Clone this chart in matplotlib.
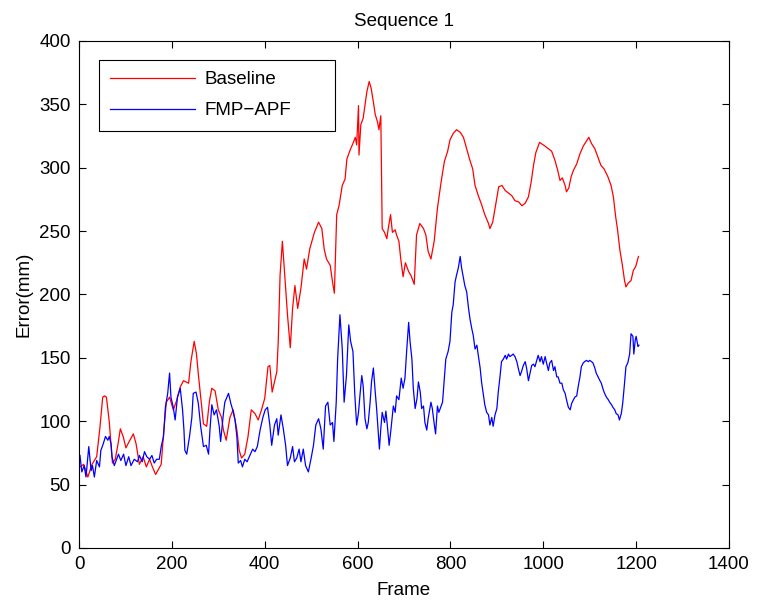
import matplotlib
matplotlib.use("Agg")
import matplotlib.pyplot as plt

# values
baseline_frame = [2, 10, 19, 28, 38, 45, 51, 55, 59, 65, 72, 78, 84, 89, 95, 101, 108, 117, 123, 130,
                  138, 145, 152, 158, 165, 171, 177, 182, 188, 195, 203, 210, 218, 225, 236, 241, 248, 253,
                  257, 262, 268, 275, 281, 286, 293, 300, 307, 311, 317, 325, 332, 340, 345, 350, 357, 364,
                  371, 379, 386, 393, 400, 407, 411, 416, 426, 429, 433, 438, 444, 449, 455, 460, 465, 471,
                  478, 485, 490, 497, 507, 516, 523, 528, 533, 541, 546, 550, 555, 560, 567, 573, 577, 584,
                  591, 595, 598, 602, 603, 607, 612, 620, 625, 629, 634, 638, 643, 646, 650, 653, 658, 663,
                  666, 671, 675, 681, 684, 689, 693, 698, 703, 710, 715, 722, 727, 734, 742, 747, 752, 758,
                  765, 772, 780, 787, 794, 799, 806, 813, 821, 828, 835, 841, 848, 853, 860, 867, 874, 882,
                  885, 891, 897, 904, 911, 918, 925, 932, 939, 947, 954, 961, 968, 974, 979, 984, 992, 1000,
                  1004, 1011, 1018, 1025, 1031, 1036, 1041, 1047, 1050, 1055, 1060, 1065, 1072, 1079, 1086,
                  1093, 1098, 1104, 1111, 1117, 1124, 1131, 1139, 1146, 1151, 1156, 1160, 1165, 1170, 1175,
                  1178, 1183, 1189, 1194, 1199, 1205]
baseline_err = [64, 66, 56, 66, 72, 95, 119, 120, 119, 100, 67, 70, 82, 94, 88, 79, 84, 90, 82, 66,
                72, 64, 70, 64, 58, 62, 66, 90, 115, 119, 109, 116, 127, 132, 130, 147, 163, 153,
                137, 119, 98, 96, 116, 126, 124, 109, 103, 93, 85, 103, 109, 93, 77, 71, 74, 88,
                109, 106, 101, 109, 118, 143, 144, 123, 139, 162, 215, 242, 210, 184, 158, 189, 207, 189,
                205, 228, 220, 236, 249, 257, 252, 236, 228, 223, 210, 201, 263, 270, 286, 291, 307, 314,
                320, 324, 318, 349, 310, 334, 339, 360, 368, 363, 352, 342, 336, 330, 341, 252, 249, 244,
                252, 263, 249, 251, 247, 242, 228, 214, 225, 218, 215, 208, 247, 256, 252, 247, 234, 228,
                242, 268, 289, 305, 313, 322, 327, 330, 328, 324, 315, 307, 299, 286, 278, 271, 263, 256,
                252, 257, 270, 285, 286, 282, 280, 278, 274, 273, 270, 272, 277, 289, 302, 312, 320, 318,
                317, 315, 313, 306, 298, 290, 292, 286, 281, 284, 293, 298, 303, 311, 317,
                321, 324, 319, 315, 309, 302, 299, 293, 286, 277, 261, 251, 235, 224, 211,
                206, 209, 211, 219, 222, 230]

fmp_frame = [2, 6, 11, 15, 21, 26, 29, 33, 38, 44, 47, 52, 57, 62, 65, 69, 71, 76, 81, 85, 90, 96,
             101, 107, 112, 119, 126, 130, 136, 141, 146, 152, 157, 162, 167, 173, 177, 182, 186, 191,
             195, 198, 203, 207, 212, 218, 223, 226, 228, 232, 238, 243, 246, 252, 257, 262, 268, 274,
             279, 282, 286, 291, 296, 302, 305, 311, 314, 322, 327, 331, 336, 340, 343, 348, 352, 357,
             362, 368, 374, 379, 384, 390, 396, 401, 406, 411, 415, 421, 426, 429, 435, 440, 445, 449,
             455, 460, 464, 469, 474, 478, 483, 488, 494, 500, 505, 510, 516, 521, 526, 531, 536, 541,
             546, 549, 554, 557, 562, 567, 571, 576, 581, 585, 590, 594, 598, 602, 605, 609, 612, 616,
             620, 623, 627, 630, 634, 638, 641, 645, 647, 650, 653, 658, 661, 664, 668, 672, 677, 681,
             684, 689, 694, 698, 702, 706, 710, 713, 717, 720, 724, 728, 731, 735, 738, 742, 745, 749,
             752, 758, 761, 765, 768, 772, 775, 780, 783, 787, 790, 795, 799, 803, 806, 810, 813, 817,
             821, 824, 828, 831, 835, 839, 842, 846, 849, 853, 857, 860, 864, 867, 871, 874, 878, 882,
             885, 889, 892, 896, 900, 903, 907, 910, 914, 918, 921, 925, 928, 932, 935, 939, 943, 946,
             950, 953, 957, 961, 964, 968, 972, 975, 979, 982, 986, 989, 993, 996, 1000, 1004, 1007,
             1011, 1014, 1018, 1022, 1025, 1029, 1032, 1036, 1040, 1043, 1047, 1050, 1054, 1058, 1061,
             1065, 1068, 1072, 1075, 1079, 1082, 1086, 1089, 1093, 1097, 1100, 1104, 1107, 1111, 1114,
             1118, 1122, 1125, 1129, 1132, 1136, 1140, 1143, 1147, 1150, 1154, 1157, 1161, 1164, 1168,
             1171, 1175, 1178, 1182, 1186, 1189, 1193, 1195, 1198, 1200, 1204, 1206]
fmp_err = [73, 60, 65, 56, 80, 61, 65, 56, 69, 64, 77, 82, 88, 85, 88, 82, 72, 65, 70, 74, 69, 74,
           65, 72, 65, 70, 68, 73, 68, 76, 72, 70, 73, 67, 70, 70, 80, 88, 111, 122,
           138, 119, 111, 101, 119, 126, 109, 93, 77, 74, 88, 103, 122, 123, 114, 96, 80, 81,
           74, 93, 113, 105, 109, 96, 84, 106, 115, 122, 114, 109, 101, 88, 67, 69, 64, 70,
           68, 73, 78, 76, 80, 93, 103, 109, 111, 97, 81, 97, 102, 89, 105, 94, 81, 65,
           71, 80, 68, 71, 78, 68, 78, 65, 60, 71, 81, 97, 102, 94, 78, 112, 115, 97,
           99, 84, 115, 149, 184, 157, 115, 136, 176, 163, 155, 121, 97, 107, 120, 136, 128, 102,
           94, 99, 115, 131, 142, 123, 110, 89, 78, 94, 107, 99, 108, 97, 81, 94, 112, 107,
           120, 117, 134, 126, 134, 157, 178, 163, 149, 126, 110, 118, 131, 123, 110, 112, 99, 93,
           102, 115, 110, 98, 90, 112, 107, 112, 115, 134, 149, 155, 163, 186, 192, 210, 215, 221,
           230, 221, 213, 207, 202, 189, 181, 173, 168, 157, 160, 152, 142, 131, 121, 113, 107, 105,
           97, 103, 96, 105, 110, 123, 136, 147, 149, 152, 149, 153, 151, 152, 153, 151, 147, 142,
           136, 139, 144, 147, 142, 132, 139, 144, 145, 143, 148, 152, 147, 151, 145, 151, 146,
           140, 146, 148, 140, 143, 135, 135, 130, 130, 125, 122, 117, 111, 109, 114,
           117, 119, 120, 127, 135, 143, 146, 147, 148, 147, 148, 147, 146, 142, 138,
           135, 132, 130, 125, 122, 119, 117, 115, 113, 111, 109, 106, 105, 101, 106,
           114, 130, 143, 146, 153, 169, 167, 153, 164, 167, 159, 160]

x_ticks = [0, 200, 400, 600, 800, 1000, 1200, 1400]
y_ticks = [0, 50, 100, 150, 200, 250, 300, 350, 400]

plt.rcParams["font.family"] = ["Liberation Sans", "DejaVu Sans"]

fig = plt.figure(figsize=(7.57, 6.0), dpi=100)
ax = fig.add_axes([0.1044, 0.0867, 0.8586, 0.845])

ax.plot(baseline_frame, baseline_err, color=(1, 0, 0), linewidth=0.9, label="Baseline")
ax.plot(fmp_frame, fmp_err, color=(0, 0, 1), linewidth=0.9, label="FMP\u2212APF")

ax.set_xlim(0, 1400)
ax.set_ylim(0, 400)
ax.set_xticks(x_ticks)
ax.set_yticks(y_ticks)
ax.tick_params(direction="in", length=5, width=0.8, top=True, right=True, labelsize=13.5, pad=6)
for s in ax.spines.values():
    s.set_linewidth(0.8)

ax.set_xlabel("Frame", fontsize=13.5, labelpad=6)
ax.set_ylabel("Error(mm)", fontsize=13.5, labelpad=5)
ax.set_title("Sequence 1", fontsize=13.5, pad=11)

leg = ax.legend(loc="upper left", bbox_to_anchor=(0.031, 0.825, 0.363, 0.138), mode="expand",
                fontsize=13.5, handlelength=4.5, handletextpad=0.5, labelspacing=0.75,
                borderpad=0.6, fancybox=False, framealpha=1, edgecolor="black", borderaxespad=0)
leg.get_frame().set_linewidth(0.8)

fig.savefig("out.png", dpi=100)
